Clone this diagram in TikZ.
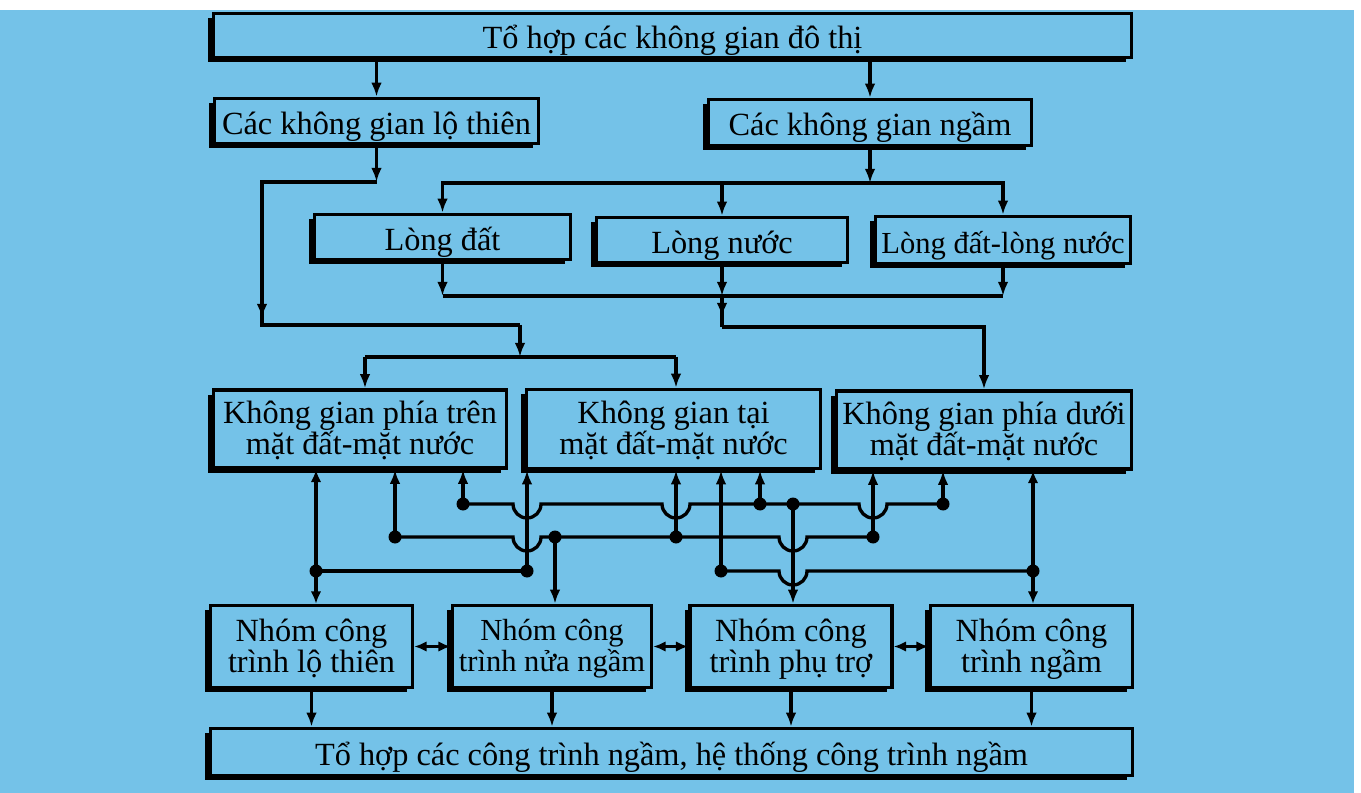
\documentclass[tikz,border=0pt]{standalone}
\usepackage{fontspec}
\setmainfont{Liberation Serif}
\usetikzlibrary{arrows.meta,shadows}
\definecolor{paper}{RGB}{116,194,232}

\begin{document}
\begin{tikzpicture}[x=0.02cm,y=-0.02cm,
    box/.style={draw,line width=2pt,fill=paper,inner sep=0pt,align=center,
      font=\fontsize{18.4}{17.8}\selectfont,
      drop shadow={shadow xshift=-3pt,shadow yshift=-2.6pt,fill=black,opacity=1}},
    oneline/.style={text height=0.62cm,text depth=0.08cm},
    twoline/.style={text depth=0.04cm},
    tight/.style={font=\fontsize{17.4}{17.8}\selectfont},
    wire/.style={line width=1.9pt},
    arr/.style={wire,-{Latex[length=8pt,width=6pt]}},
    arrs/.style={wire,{Latex[length=7pt,width=6pt]}-{Latex[length=7pt,width=6pt]}}]
  \useasboundingbox (0,0) rectangle (1361,793);
  \fill[white] (0,0) rectangle (1361,793);
  \fill[paper] (0,10) rectangle (1354,793);

  % boxes
  \node[box,oneline,minimum width=18.36cm,minimum height=0.88cm] (top) at (672.5,35.5) {Tổ hợp các không gian đô thị};
  \node[box,oneline,minimum width=6.48cm,minimum height=0.90cm] (lothien) at (376.5,121) {Các không gian lộ thiên};
  \node[box,oneline,minimum width=6.46cm,minimum height=0.92cm] (ngam) at (870,122.5) {Các không gian ngầm};
  \node[box,oneline,minimum width=5.12cm,minimum height=0.90cm] (longdat) at (442.5,237) {Lòng đất};
  \node[box,oneline,minimum width=5.02cm,minimum height=0.90cm] (longnuoc) at (722,240) {Lòng nước};
  \node[box,oneline,tight,minimum width=5.10cm,minimum height=0.94cm] (longdln) at (1003,240) {Lòng đất-lòng nước};
  \node[box,twoline,minimum width=5.86cm,minimum height=1.56cm] (tren) at (360,429) {Không gian phía trên\\mặt đất-mặt nước};
  \node[box,twoline,minimum width=5.88cm,minimum height=1.58cm] (tai) at (673.5,429) {Không gian tại\\mặt đất-mặt nước};
  \node[box,twoline,minimum width=5.90cm,minimum height=1.56cm] (duoi) at (984,430) {Không gian phía dưới\\mặt đất-mặt nước};
  \node[box,twoline,minimum width=4.04cm,minimum height=1.64cm] (gLoThien) at (311.5,646.5) {Nhóm công\\trình lộ thiên};
  \node[box,twoline,tight,minimum width=3.98cm,minimum height=1.64cm] (gNuaNgam) at (552,646.5) {Nhóm công\\trình nửa ngầm};
  \node[box,twoline,minimum width=4.04cm,minimum height=1.64cm] (gPhuTro) at (791,646.5) {Nhóm công\\trình phụ trợ};
  \node[box,twoline,minimum width=4.04cm,minimum height=1.64cm] (gNgam) at (1031.5,646.5) {Nhóm công\\trình ngầm};
  \node[box,oneline,minimum width=18.44cm,minimum height=0.94cm] (bottom) at (671.5,752) {Tổ hợp các công trình ngầm, hệ thống công trình ngầm};

  % upper wiring
  \coordinate (a1) at (262,182);
  \coordinate (a2) at (262,325);
  \coordinate (a3) at (520,325);
  \coordinate (t1) at (365,357);
  \coordinate (t2) at (676,357);
  \coordinate (b1) at (870,183);
  \coordinate (b2) at (722,296);
  \coordinate (b3) at (722,327);

  \draw[arr] (top.south -| lothien.north) -- (lothien.north);
  \draw[arr] (top.south -| ngam.north) -- (ngam.north);
  \draw[arr] (lothien.south) -- (lothien.south |- a1);
  \draw[wire] (lothien.south |- a1) -- (a1) -- (a2) -- (a3);
  \draw[arr] (a1) -- ++(0,136);
  \draw[arr] (a3) -- (a3 |- t1);
  \draw[wire] (t1) -- (t2);
  \draw[arr] (t1) -- (tren.north -| t1);
  \draw[arr] (t2) -- (tai.north -| t2);
  \draw[arr] (ngam.south) -- (b1);
  \draw[arr] (b1) -| (longdat.north);
  \draw[arr] (b1) -| (longnuoc.north);
  \draw[arr] (b1) -| (longdln.north);
  \draw[arr] (longdat.south) -- (longdat.south |- b2);
  \draw[arr] (longnuoc.south) -- (b2);
  \draw[arr] (longdln.south) -- (longdln.south |- b2);
  \draw[wire] (longdat.south |- b2) -- (longdln.south |- b2);
  \draw[wire] (b2) -- (b3);
  \draw[arr] (b2) -- ++(0,21);
  \draw[arr] (b3) -| (duoi.north);

  % lower wiring
  \coordinate (dA) at (316,571);
  \coordinate (dB) at (527,571);
  \coordinate (dC) at (395,537);
  \coordinate (dD) at (555,537);
  \coordinate (dE) at (676,537);
  \coordinate (dF) at (873,537);
  \coordinate (dG) at (463,504);
  \coordinate (dH) at (760,504);
  \coordinate (dI) at (793,504);
  \coordinate (dJ) at (943,504);
  \coordinate (dK) at (721,571);
  \coordinate (dL) at (1033,571);

  \draw[wire] (dA) -- (dB);
  \draw[wire] (dC) -- (513,537) arc (180:0:14) -- (dD) -- (dE) -- (779,537) arc (180:0:14) -- (dF);
  \draw[wire] (dG) -- (513,504) arc (180:0:14) -- (662,504) arc (180:0:14) -- (dH) -- (dI)
    -- (859,504) arc (180:0:14) -- (dJ);
  \draw[wire] (dK) -- (779,571) arc (180:0:14) -- (dL);

  \draw[arrs] (tren.south -| dA) -- (gLoThien.north -| dA);
  \draw[arrs] (duoi.south -| dL) -- (gNgam.north -| dL);
  \draw[arr] (dC) -- (tren.south -| dC);
  \draw[arr] (dG) -- (tren.south -| dG);
  \draw[arr] (dB) -- (tai.south -| dB);
  \draw[arr] (dE) -- (tai.south -| dE);
  \draw[arr] (dK) -- (tai.south -| dK);
  \draw[arr] (dH) -- (tai.south -| dH);
  \draw[arr] (dF) -- (duoi.south -| dF);
  \draw[arr] (dJ) -- (duoi.south -| dJ);
  \draw[arr] (dD) -- (gNuaNgam.north -| dD);
  \draw[arr] (dI) -- (gPhuTro.north -| dI);
  \foreach \d in {dA,dB,dC,dD,dE,dF,dG,dH,dI,dJ,dK,dL}
    \fill (\d) circle (6.5);

  % bottom row
  \draw[arrs] (gLoThien.east) -- (gNuaNgam.west);
  \draw[arrs] (gNuaNgam.east) -- (gPhuTro.west);
  \draw[arrs] (gPhuTro.east) -- (gNgam.west);
  \foreach \g in {gLoThien,gNuaNgam,gPhuTro,gNgam}
    \draw[arr] (\g.south) -- (\g.south |- bottom.north);
\end{tikzpicture}
\end{document}
